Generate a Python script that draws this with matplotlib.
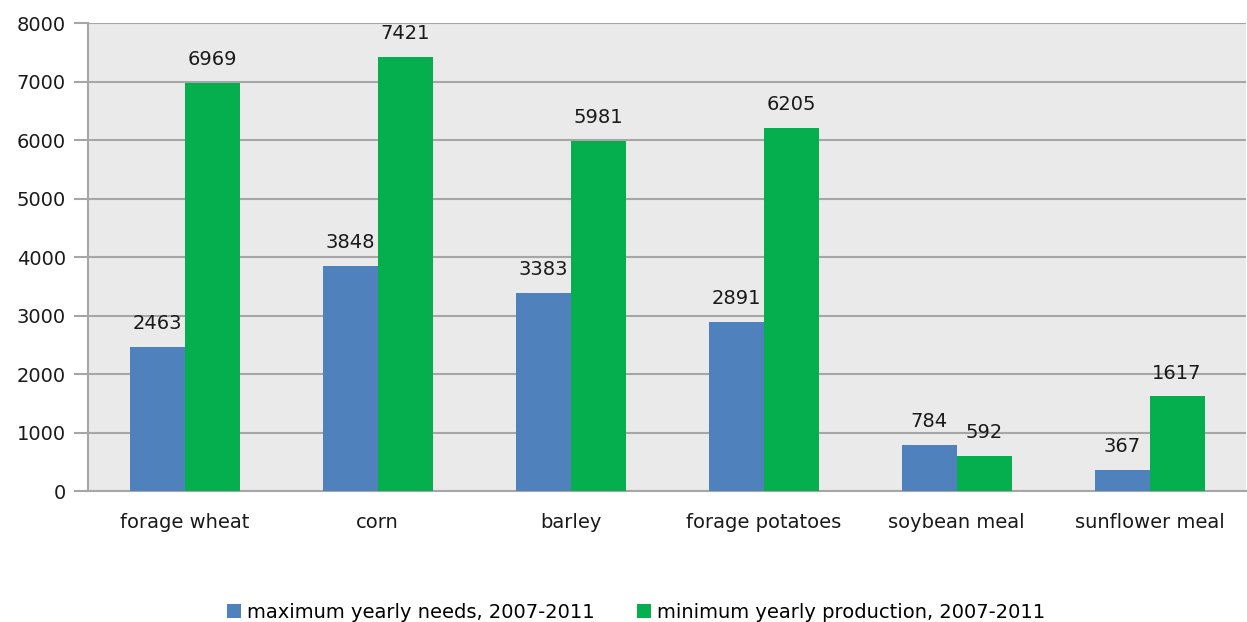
import matplotlib
matplotlib.use("Agg")
import matplotlib.pyplot as plt
import numpy as np

categories = ["forage wheat", "corn", "barley", "forage potatoes", "soybean meal", "sunflower meal"]
max_needs = [2463, 3848, 3383, 2891, 784, 367]
min_production = [6969, 7421, 5981, 6205, 592, 1617]
series_names = ["maximum yearly needs, 2007-2011", "minimum yearly production, 2007-2011"]
yticks = [0, 1000, 2000, 3000, 4000, 5000, 6000, 7000, 8000]

blue = "#4F81BD"
green = "#05AF4D"
grid = "#A6A6A6"

plt.rcParams['font.family'] = ['DejaVu Sans']
fig = plt.figure(figsize=(12.47, 6.22), dpi=100)
ax = fig.add_axes([0.0706, 0.2106, 0.9286, 0.7524])
ax.set_facecolor("#EAEAEA")

x = np.arange(len(categories))
w = 0.285
b1 = ax.bar(x - w/2, max_needs, w, color=blue, label=series_names[0], zorder=3)
b2 = ax.bar(x + w/2, min_production, w, color=green, label=series_names[1], zorder=3)

for bars, vals in ((b1, max_needs), (b2, min_production)):
    for r, v in zip(bars, vals):
        ax.annotate(str(v), (r.get_x() + r.get_width()/2, v), xytext=(0, 10),
                    textcoords="offset points", ha="center", va="bottom",
                    fontsize=14, color="#1a1a1a", zorder=4)

ax.set_xlim(-0.5, len(categories) - 0.5)
ax.set_ylim(0, 8000)
ax.set_yticks(yticks)
ax.set_yticklabels([str(t) for t in yticks], fontsize=14, color="#1a1a1a")
ax.set_xticks(x)
ax.set_xticklabels(categories, fontsize=14, color="#1a1a1a")
ax.tick_params(axis="x", length=0, pad=16)
ax.tick_params(axis="y", length=10, color=grid, width=1.5, pad=6)
ax.yaxis.grid(True, color=grid, linewidth=1.5, zorder=0)
for s in ["top", "right"]:
    ax.spines[s].set_visible(False)
ax.spines["left"].set_color(grid)
ax.spines["left"].set_linewidth(1.5)
ax.spines["bottom"].set_color(grid)
ax.spines["bottom"].set_linewidth(1.5)

fig.legend(handles=[b1, b2], labels=series_names, loc="lower center",
           bbox_to_anchor=(0.51, -0.028), ncol=2, frameon=False, fontsize=14,
           handlelength=0.7, handleheight=0.7, handletextpad=0.3, columnspacing=2.2)

fig.savefig("out.png", dpi=100)
